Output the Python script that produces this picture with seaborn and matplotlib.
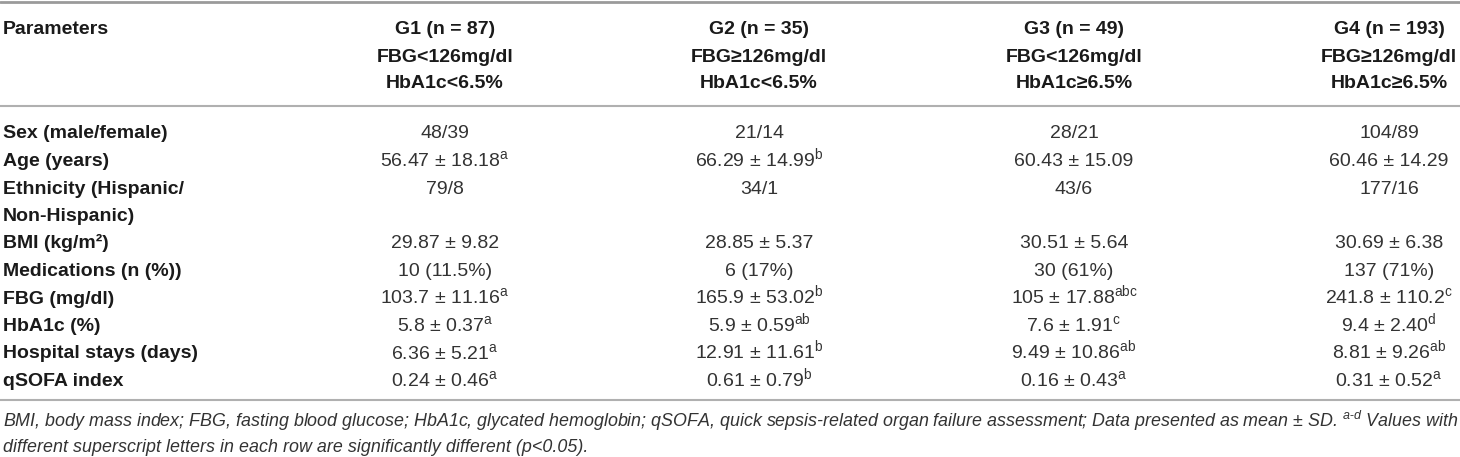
import matplotlib.pyplot as plt
import seaborn as sns

# Table content
parameters = ['Sex (male/female)', 'Age (years)', 'Ethnicity (Hispanic/\nNon-Hispanic)',
              'BMI (kg/m²)', 'Medications (n (%))', 'FBG (mg/dl)', 'HbA1c (%)',
              'Hospital stays (days)', 'qSOFA index']
row_lines = [1, 1, 2, 1, 1, 1, 1, 1, 1]

group_headers = ['G1 (n = 87)\nFBG<126mg/dl\nHbA1c<6.5%',
                 'G2 (n = 35)\nFBG≥126mg/dl\nHbA1c<6.5%',
                 'G3 (n = 49)\nFBG<126mg/dl\nHbA1c≥6.5%',
                 'G4 (n = 193)\nFBG≥126mg/dl\nHbA1c≥6.5%']

g1_values = ['48/39', '56.47 ± 18.18', '79/8', '29.87 ± 9.82', '10 (11.5%)',
             '103.7 ± 11.16', '5.8 ± 0.37', '6.36 ± 5.21', '0.24 ± 0.46']
g1_sup = ['', 'a', '', '', '', 'a', 'a', 'a', 'a']
g2_values = ['21/14', '66.29 ± 14.99', '34/1', '28.85 ± 5.37', '6 (17%)',
             '165.9 ± 53.02', '5.9 ± 0.59', '12.91 ± 11.61', '0.61 ± 0.79']
g2_sup = ['', 'b', '', '', '', 'b', 'ab', 'b', 'b']
g3_values = ['28/21', '60.43 ± 15.09', '43/6', '30.51 ± 5.64', '30 (61%)',
             '105 ± 17.88', '7.6 ± 1.91', '9.49 ± 10.86', '0.16 ± 0.43']
g3_sup = ['', '', '', '', '', 'abc', 'c', 'ab', 'a']
g4_values = ['104/89', '60.46 ± 14.29', '177/16', '30.69 ± 6.38', '137 (71%)',
             '241.8 ± 110.2', '9.4 ± 2.40', '8.81 ± 9.26', '0.31 ± 0.52']
g4_sup = ['', '', '', '', '', 'c', 'd', 'ab', 'a']

footnote_1 = ('BMI, body mass index; FBG, fasting blood glucose; HbA1c, glycated hemoglobin; '
              'qSOFA, quick sepsis-related organ failure assessment; Data presented as mean ± SD. '
              '$^{a\\text{-}d}$ Values with')
footnote_2 = 'different superscript letters in each row are significantly different (p<0.05).'

columns = [(g1_values, g1_sup), (g2_values, g2_sup), (g3_values, g3_sup), (g4_values, g4_sup)]

sns.set_theme(style='white')
plt.rcParams['font.family'] = ['Liberation Sans', 'DejaVu Sans']
plt.rcParams['mathtext.fontset'] = 'custom'
plt.rcParams['mathtext.rm'] = 'Liberation Sans'
plt.rcParams['mathtext.it'] = 'Liberation Sans:italic'
plt.rcParams['mathtext.bf'] = 'Liberation Sans:bold'

W, H = 1460, 457
fig = plt.figure(figsize=(W / 100, H / 100), dpi=100)
ax = fig.add_axes([0, 0, 1, 1])
ax.set_xlim(0, W)
ax.set_ylim(H, 0)
ax.axis('off')

fs = 14
col_x = [445, 759, 1074, 1389]
head_y = [28, 55, 82]
row_step = 27.5
first_row = 132
base = 6.5  # center -> baseline offset

# rules
ax.axhline(2, color='#9a9a9a', lw=2)
ax.axhline(106, color='#b0b0b0', lw=1.5)
ax.axhline(400, color='#b0b0b0', lw=1.5)

# header
ax.text(3, head_y[0] + base, 'Parameters', fontsize=fs, fontweight='bold',
        color='#1a1a1a', ha='left', va='baseline')
for x, h in zip(col_x, group_headers):
    for y, line in zip(head_y, h.split('\n')):
        ax.text(x, y + base, line, fontsize=fs, fontweight='bold',
                color='#1a1a1a', ha='center', va='baseline')

# body
y = first_row
for i, (p, n) in enumerate(zip(parameters, row_lines)):
    for k, line in enumerate(p.split('\n')):
        ax.text(3, y + k * row_step + base, line, fontsize=fs, fontweight='bold',
                color='#1a1a1a', ha='left', va='baseline')
    for x, (vals, sups) in zip(col_x, columns):
        s = vals[i]
        if sups[i]:
            s += '$^{\\mathrm{' + sups[i] + '}}$'
        ax.text(x, y + base, s, fontsize=fs, color='#333333',
                ha='center', va='baseline')
    y += n * row_step

# footnote, fitted to table width
fig.canvas.draw()
r = fig.canvas.get_renderer()
t1 = ax.text(3, 422 + 5, footnote_1, fontsize=12, fontstyle='italic',
             color='#333333', ha='left', va='baseline')
wpx = t1.get_window_extent(renderer=r).width
ffs = 12 * 1455 / wpx
t1.set_fontsize(ffs)
ax.text(3, 447 + 5, footnote_2, fontsize=ffs, fontstyle='italic',
        color='#333333', ha='left', va='baseline')

fig.savefig('out.png', dpi=100)
